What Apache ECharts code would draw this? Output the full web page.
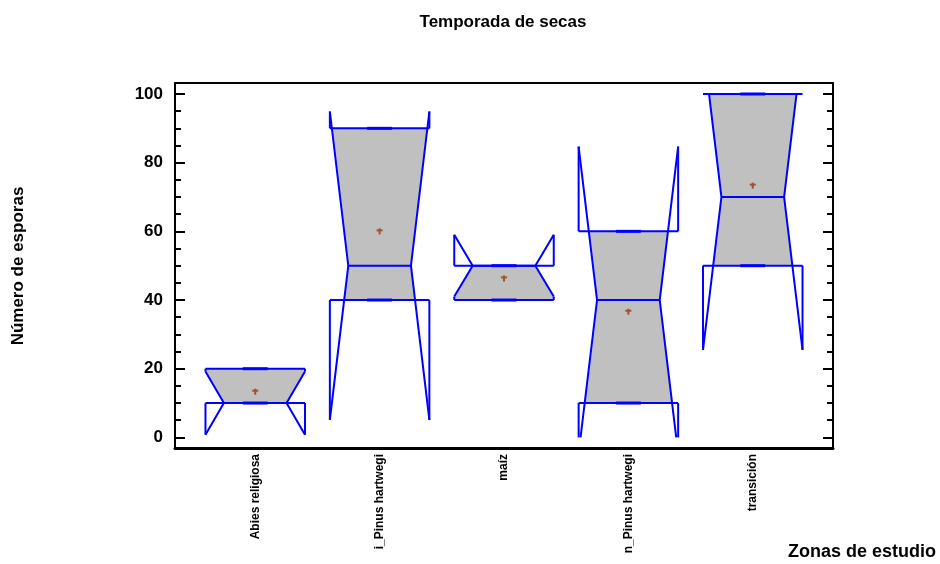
<!DOCTYPE html>
<html>
<head>
<meta charset="utf-8">
<title>Temporada de secas</title>
<script src="https://cdn.jsdelivr.net/npm/echarts@6/dist/echarts.min.js"></script>
<style>
  html, body { margin: 0; padding: 0; background: #fff; }
  #chart { width: 940px; height: 564px; }
</style>
</head>
<body>
<div id="chart"></div>
<script>
// Zonas de estudio (categorías del eje X)
const categorias = ['Abies religiosa', 'i_Pinus hartwegi', 'maíz', 'n_Pinus hartwegi', 'transición'];

// Estadísticos de cada caja (número de esporas)
const cuartilInferior = [10, 40, 40, 10, 50];
const mediana        = [10, 50, 50, 40, 70];
const cuartilSuperior = [20, 90, 50, 60, 100];
const muescaInferior = [0.8, 5.1, 41, -4.7, 25.5];
const muescaSuperior = [19.2, 94.9, 59, 84.7, 114.5];
const media          = [13.3, 60, 46.3, 36.6, 73.3];
const minimo         = [10, 40, 40, 10, 50];
const maximo         = [20, 90, 50, 60, 100];

// Marcas del eje Y
const marcasY = [0, 20, 40, 60, 80, 100];
const marcasMenoresY = [0, 5, 10, 15, 20, 25, 30, 35, 40, 45, 50, 55, 60, 65, 70, 75, 80, 85, 90, 95, 100];

// Geometría de las cajas (unidades del eje X)
const MEDIO_ANCHO = 0.4;
const MUESCA = 0.148;
const MEDIO_TOPE = 0.1;
const LIMITE_INF = 0;
const LIMITE_SUP = 100;

const FUENTE = '"Liberation Sans", Arial, sans-serif';
const AZUL = '#0000ff';

const datos = categorias.map((c, i) => [
  i + 1, cuartilInferior[i], mediana[i], cuartilSuperior[i],
  muescaInferior[i], muescaSuperior[i], media[i], minimo[i], maximo[i]
]);

function clamp(v) { return Math.max(LIMITE_INF, Math.min(LIMITE_SUP, v)); }

function renderCaja(params, api) {
  const x = api.value(0), q1 = api.value(1), med = api.value(2), q3 = api.value(3);
  const lo = api.value(4), hi = api.value(5), mu = api.value(6);
  const mn = api.value(7), mx = api.value(8);
  const L = x - MEDIO_ANCHO, R = x + MEDIO_ANCHO;

  // desplazamiento horizontal del borde de la muesca a la altura v
  function desp(v) {
    if (v >= hi || v <= lo) return 0;
    if (v >= med) return MUESCA * (hi - v) / (hi - med);
    return MUESCA * (v - lo) / (med - lo);
  }
  const P = (xx, yy) => api.coord([xx, yy]);
  const linea = (pts, w) => ({
    type: 'polyline',
    shape: { points: pts },
    style: { stroke: AZUL, lineWidth: w || 2, fill: null }
  });

  // relleno gris entre los cuartiles, recortado por la muesca
  let vs = [q3, hi, med, lo, q1].filter(v => v <= q3 && v >= q1);
  vs.sort((a, b) => b - a);
  vs = vs.filter((v, k) => k === 0 || v !== vs[k - 1]);
  const izq = vs.map(v => P(L + desp(v), v));
  const der = vs.slice().reverse().map(v => P(R - desp(v), v));
  const children = [{
    type: 'polygon',
    shape: { points: izq.concat(der) },
    style: { fill: '#c0c0c0', stroke: null }
  }];

  const hiC = clamp(hi), loC = clamp(lo);
  // bordes laterales y muescas
  children.push(linea([P(L, q3), P(L, hiC)]));
  children.push(linea([P(R, q3), P(R, hiC)]));
  children.push(linea([P(L, q1), P(L, loC)]));
  children.push(linea([P(R, q1), P(R, loC)]));
  children.push(linea([P(L + desp(hiC), hiC), P(L + MUESCA, med), P(L + desp(loC), loC)]));
  children.push(linea([P(R - desp(hiC), hiC), P(R - MUESCA, med), P(R - desp(loC), loC)]));
  // cuartiles y mediana
  children.push(linea([P(L, q3), P(R, q3)]));
  children.push(linea([P(L, q1), P(R, q1)]));
  children.push(linea([P(L + MUESCA, med), P(R - MUESCA, med)]));
  // topes de los bigotes
  children.push(linea([P(x - MEDIO_TOPE, mx), P(x + MEDIO_TOPE, mx)], 3));
  children.push(linea([P(x - MEDIO_TOPE, mn), P(x + MEDIO_TOPE, mn)], 3));

  // media
  const m = P(x, mu);
  children.push({
    type: 'polyline',
    shape: { points: [[m[0] - 3, m[1] - 1], [m[0] + 3, m[1] - 1]] },
    style: { stroke: '#a0522d', lineWidth: 2 }
  });
  children.push({
    type: 'polyline',
    shape: { points: [[m[0], m[1] - 3], [m[0], m[1] + 3]] },
    style: { stroke: '#a0522d', lineWidth: 2 }
  });

  return { type: 'group', children: children };
}

const Y_MIN = -3.09, Y_MAX = 103.2;
const X_MIN = 0.355, X_MAX = 5.645;

const ejeY = (pos, principal) => ({
  type: 'value', position: pos, min: Y_MIN, max: Y_MAX,
  axisLine: { show: principal, onZero: false, lineStyle: { color: '#000', width: 2 } },
  splitLine: { show: false },
  axisTick: {
    show: true, inside: true, length: principal ? 10 : 6,
    customValues: principal ? marcasY : marcasMenoresY,
    lineStyle: { color: '#000', width: 2 }
  },
  axisLabel: (principal && pos === 'left') ? {
    show: true, customValues: marcasY, margin: 12,
    color: '#000', fontSize: 17, fontWeight: 'bold', fontFamily: FUENTE
  } : { show: false }
});

const chart = echarts.init(document.getElementById('chart'), null, { renderer: 'canvas' });
chart.setOption({
  animation: false,
  backgroundColor: '#fff',
  grid: { left: 175, right: 107, top: 83, bottom: 116, containLabel: false },
  xAxis: [{
    type: 'value', position: 'bottom', min: X_MIN, max: X_MAX,
    axisLine: { show: true, onZero: false, lineStyle: { color: '#000', width: 3 } },
    axisTick: { show: false },
    splitLine: { show: false },
    axisLabel: {
      show: true, customValues: [1, 2, 3, 4, 5], rotate: 90, margin: 6,
      formatter: v => categorias[Math.round(v) - 1] || '',
      color: '#000', fontSize: 12, fontWeight: 'bold', fontFamily: FUENTE
    }
  }, {
    type: 'value', position: 'top', min: X_MIN, max: X_MAX,
    axisLine: { show: true, onZero: false, lineStyle: { color: '#000', width: 2 } },
    axisTick: { show: false }, axisLabel: { show: false }, splitLine: { show: false }
  }],
  yAxis: [ejeY('left', true), ejeY('left', false), ejeY('right', true), ejeY('right', false)],
  graphic: [{
    type: 'text', x: 503, y: 22,
    style: { text: 'Temporada de secas', textAlign: 'center', textVerticalAlign: 'middle',
      font: 'bold 17px ' + FUENTE, fill: '#000' }
  }, {
    type: 'text', x: 18, y: 266, rotation: Math.PI / 2,
    style: { text: 'Número de esporas', textAlign: 'center', textVerticalAlign: 'middle',
      font: 'bold 17px ' + FUENTE, fill: '#000' }
  }, {
    type: 'text', x: 936, y: 552,
    style: { text: 'Zonas de estudio', textAlign: 'right', textVerticalAlign: 'middle',
      font: 'bold 18px ' + FUENTE, fill: '#000' }
  }],
  series: [{
    type: 'custom',
    xAxisIndex: 0, yAxisIndex: 0,
    renderItem: renderCaja,
    data: datos,
    clip: false
  }]
});
</script>
</body>
</html>
